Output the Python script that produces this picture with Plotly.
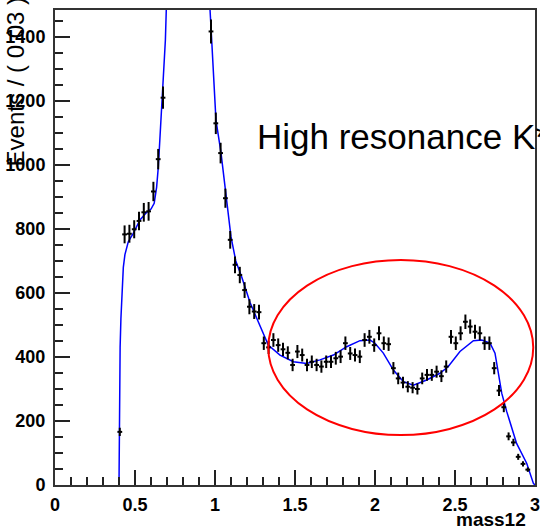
import plotly.graph_objects as go
import numpy as np

# ---------------- data ----------------
bin_width = 0.03
first_center = 0.405
counts = [166, 783, 785, 799, 825, 852, 855, 917, 1018, 1210,
          1620, 2100, 2900, 3900, 5300, 6600, 7000, 5000, 2300,
          1417, 1130, 1037, 896, 766, 688, 656, 609, 557, 542, 540,
          443, 430, 453, 437, 424, 413, 375, 417, 406, 375,
          385, 375, 370, 385, 385, 396, 401, 443, 411, 406,
          401, 453, 463, 437, 474, 443, 440, 365, 333, 320,
          307, 304, 300, 333, 344, 344, 354, 340, 370, 463,
          443, 474, 510, 495, 479, 474, 443, 443, 365, 295,
          243, 152, 133, 88, 66, 48]
centers = [round(first_center + bin_width * i, 3) for i in range(len(counts))]
errors = [float(np.sqrt(c)) for c in counts]

fit_x = [0.400, 0.401, 0.404, 0.407, 0.412, 0.420, 0.427, 0.437, 0.458, 0.489,
         0.531, 0.573, 0.600, 0.620, 0.635, 0.646, 0.660, 0.677, 0.690, 0.700,
         0.720, 0.760, 0.800, 0.850, 0.890, 0.930, 0.955, 0.969, 0.975, 1.006,
         1.037, 1.069, 1.100, 1.130, 1.167, 1.219, 1.281, 1.333, 1.406, 1.490,
         1.573, 1.656, 1.740, 1.823, 1.906, 1.969, 2.000, 2.052, 2.115, 2.177,
         2.240, 2.323, 2.406, 2.458, 2.531, 2.615, 2.667, 2.719, 2.750, 2.771,
         2.792, 2.823, 2.885, 2.948, 2.990, 3.000]
fit_y = [0, 170, 330, 430, 520, 610, 680, 720, 760, 786,
         828, 852, 862, 880, 930, 995, 1120, 1266, 1391, 1560,
         2000, 3000, 4500, 6500, 7500, 5500, 2200, 1484, 1430, 1140,
         1040, 900, 775, 700, 650, 570, 495, 437, 406, 385,
         380, 391, 406, 432, 451, 453, 443, 412, 359, 323,
         312, 328, 349, 370, 417, 451, 453, 443, 412, 349,
         287, 230, 130, 68, 5, 0]

x_ticks = [0, 0.5, 1, 1.5, 2, 2.5, 3]
x_tick_labels = ["0", "0.5", "1", "1.5", "2", "2.5", "3"]
y_ticks = [0, 200, 400, 600, 800, 1000, 1200, 1400]
y_tick_labels = ["0", "200", "400", "600", "800", "1000", "1200", "1400"]

ellipse_x = [1.333, 2.989]
ellipse_y = [156, 703]

y_title = "Events / ( 0.03 )"
x_title = "mass12"
note = "High resonance K*"

# ---------------- figure ----------------
FONT = "Liberation Sans, Arial, Helvetica, sans-serif"

fig = go.Figure()
fig.add_trace(go.Scatter(
    x=fit_x, y=fit_y, mode="lines",
    line=dict(color="#0000ff", width=1.5),
    hoverinfo="skip", showlegend=False))
fig.add_trace(go.Scatter(
    x=centers, y=counts, mode="markers",
    marker=dict(size=1, color="black"),
    error_y=dict(type="data", array=errors, color="black", thickness=2, width=0),
    error_x=dict(type="constant", value=bin_width / 2, color="black", thickness=2, width=0),
    showlegend=False))

fig.add_shape(type="circle", xref="x", yref="y",
              x0=ellipse_x[0], x1=ellipse_x[1], y0=ellipse_y[0], y1=ellipse_y[1],
              line=dict(color="#ff0000", width=2))

tickfont = dict(family=FONT, size=18, color="black", weight="bold")
fig.update_xaxes(range=[0, 3], tickvals=x_ticks, ticktext=x_tick_labels,
                 ticks="inside", ticklen=15, tickwidth=1.5, tickcolor="#222",
                 minor=dict(ticks="inside", ticklen=8, dtick=0.1, tickwidth=1.5, tickcolor="#222"),
                 showline=True, linewidth=2, linecolor="#333", mirror=True,
                 showgrid=False, zeroline=False, tickfont=tickfont, ticklabelstandoff=2,
                 automargin=False, ticklabeloverflow="allow")
fig.update_yaxes(range=[0, 1484], tickvals=y_ticks, ticktext=y_tick_labels,
                 ticks="inside", ticklen=15, tickwidth=1.5, tickcolor="#222",
                 minor=dict(ticks="inside", ticklen=8, dtick=50, tickwidth=1.5, tickcolor="#222"),
                 showline=True, linewidth=2, linecolor="#333", mirror=True,
                 showgrid=False, zeroline=False, tickfont=tickfont, ticklabelstandoff=4,
                 automargin=False, ticklabeloverflow="allow")

fig.add_annotation(text=y_title, xref="paper", yref="paper",
                   x=-0.083, y=1.03, xanchor="center", yanchor="top",
                   textangle=-90, showarrow=False,
                   font=dict(family=FONT, size=24, color="black"))
fig.add_annotation(text=x_title, xref="paper", yref="paper",
                   x=0.985, y=-0.073, xanchor="right", yanchor="middle",
                   showarrow=False,
                   font=dict(family=FONT, size=19, color="black", weight="bold"))
fig.add_annotation(text=note, xref="paper", yref="paper",
                   x=0.4167, y=0.733, xanchor="left", yanchor="middle",
                   showarrow=False,
                   font=dict(family=FONT, size=35, color="black"))

fig.update_layout(width=540, height=531,
                  margin=dict(l=55, r=5, t=10, b=46, autoexpand=False),
                  paper_bgcolor="white", plot_bgcolor="white")

fig.write_html("out.html")
